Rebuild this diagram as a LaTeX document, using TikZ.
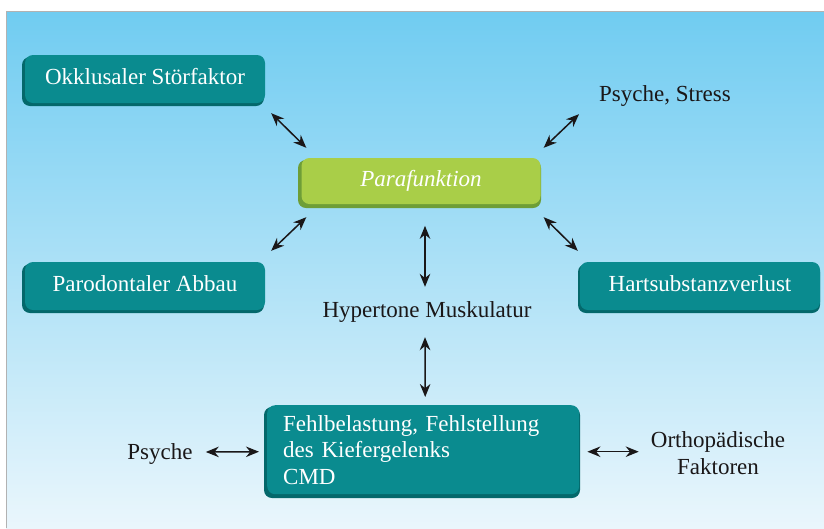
\documentclass[tikz,border=0pt]{standalone}
\usepackage{fontspec}
\setmainfont{Liberation Serif}
\usetikzlibrary{calc,arrows.meta}
\definecolor{bgtop}{HTML}{70CCF1}
\definecolor{bgbot}{HTML}{EAF6FC}
\definecolor{tealbox}{HTML}{0A8B8F}
\definecolor{tealdark}{HTML}{04686B}
\definecolor{greenbox}{HTML}{A9CE48}
\definecolor{greendark}{HTML}{6E9E37}
\definecolor{ink}{HTML}{1A1718}
\tikzset{
  bigfont/.style={font=\fontsize{23}{26.5}\selectfont},
  tbox/.style={bigfont, rounded corners=8pt, fill=tealbox, text=white,
    minimum width=240pt, minimum height=48pt, inner sep=0pt,
    text height=16pt, text depth=5pt},
  gbox/.style={tbox, fill=greenbox},
  lbl/.style={bigfont, text=ink, inner sep=0pt},
  dbl/.style={{Stealth[length=13pt,width=10.5pt]}-{Stealth[length=13pt,width=10.5pt]},
    line width=1.5pt, draw=ink},
  shadowt/.style={fill=tealdark, rounded corners=8pt},
  shadowg/.style={fill=greendark, rounded corners=8pt}
}
\begin{document}
\begin{tikzpicture}[x=1pt,y=-1pt]
\useasboundingbox (0,0) rectangle (824,528);
\fill[white] (0,0) rectangle (824,528);
\shade[top color=bgtop,bottom color=bgbot] (6,11) rectangle (824,528);
\draw[gray!60, line width=1pt] (6,528) -- (6,11) -- (824,11);

% shadows
\fill[shadowt] (22,57) rectangle (264,106);
\fill[shadowt] (22,264) rectangle (264,313);
\fill[shadowt] (578,264) rectangle (820,313);
\fill[shadowt] (264,407) rectangle (580,498);
\fill[shadowg] (298,160) rectangle (541,208);

% boxes
\node[tbox] (okk) at (145,79) {Okklusaler Störfaktor};
\node[gbox, minimum width=239pt, minimum height=46pt] (para) at (421,181) {\itshape Parafunktion};
\node[tbox] (parod) at (145,286) {Parodontaler Abbau};
\node[tbox] (hart) at (700,286) {Hartsubstanzverlust};
\node[tbox, minimum width=312pt, minimum height=89pt, text height=, text depth=,
      text width=280pt, align=left, anchor=north west] (fehl) at (267,405)
  {Fehlbelastung, Fehlstellung\\des Kiefergelenks\\CMD};

% labels
\node[lbl, anchor=base] (ps) at (665,101) {Psyche, Stress};
\node[lbl, anchor=base] (hyp) at (427,317) {Hypertone Muskulatur};
\node[lbl, anchor=base] (psy) at (160,459) {Psyche};
\node[lbl, align=center] (orth) at (718,453) {Orthopädische\\Faktoren};

% connector ends
\coordinate (psyA) at ($(psy.base east)+(13,-7)$);
\coordinate (fehlW) at ($(fehl.west)+(-8,2)$);
\coordinate (fehlE) at ($(fehl.east)+(8,2)$);
\coordinate (orthW) at ($(orth.west)+(-12,0)$);

% connectors
\draw[dbl] ($(okk.south east)+(6,10)$) -- ($(para.north west)+(5,-10)$);
\draw[dbl] ($(ps.south west)+(-20,8)$) -- ($(para.north east)+(3,-10)$);
\draw[dbl] ($(para.south west)+(5,13)$) -- ($(parod.north east)+(6,-11)$);
\draw[dbl] ($(para.south east)+(3,13)$) -- ($(hart.north west)+(-2,-11)$);
\draw[dbl] ($(hyp.north)+(-2,-75)$) -- ($(hyp.north)+(-2,-14)$);
\draw[dbl] ($(hyp.south)+(-2,15)$) -- ($(fehl.north)+(2,-8)$);
\draw[dbl] (psyA) -- (fehlW);
\draw[dbl] (fehlE) -- (orthW |- fehlE);
\end{tikzpicture}
\end{document}
